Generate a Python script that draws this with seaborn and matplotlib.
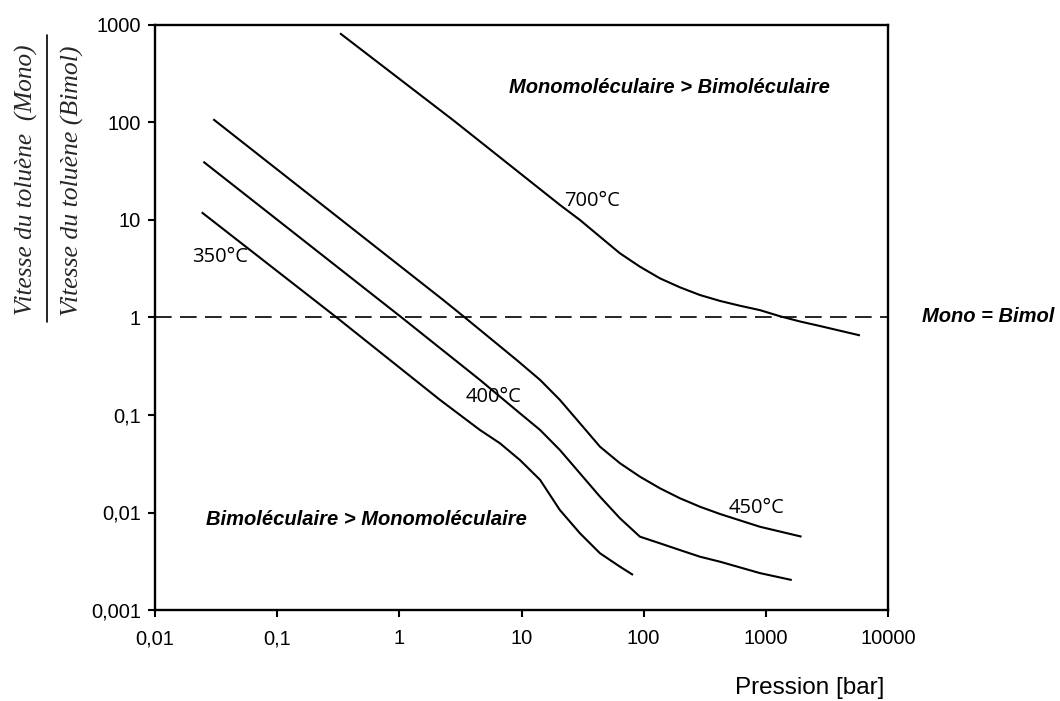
import matplotlib
matplotlib.use("Agg")
import matplotlib.pyplot as plt
import seaborn as sns
import pandas as pd
from matplotlib.lines import Line2D

# ---- data ----
p_700 = [0.327, 2.75, 20.6, 30.1, 43.9, 64, 93.2, 136, 198, 289, 421, 614, 895, 1306, 1905, 2775, 5900]
r_700 = [822, 106, 14.3, 10.0, 6.74, 4.55, 3.32, 2.52, 2.04, 1.70, 1.48, 1.32, 1.19, 1.03, 0.91, 0.818, 0.655]

p_450 = [0.030, 2.29, 3.44, 9.14, 14.2, 20.6, 30.1, 43.9, 64, 93.2, 136, 198, 289, 421, 895, 1960]
r_450 = [108, 1.51, 1.0, 0.366, 0.229, 0.143, 0.0822, 0.0473, 0.0320, 0.0233, 0.0177, 0.0140,
         0.01146, 0.00966, 0.00714, 0.00565]

p_400 = [0.0249, 1.045, 4.57, 9.72, 14.2, 20.6, 30.1, 43.9, 64, 93.2, 136, 198, 289, 421, 895, 1630]
r_400 = [39.6, 1.0, 0.229, 0.104, 0.0702, 0.0438, 0.0252, 0.01453, 0.00872, 0.00565,
         0.00483, 0.00412, 0.00352, 0.00313, 0.00239, 0.00203]

p_350 = [0.0241, 0.307, 2.15, 4.57, 6.66, 9.72, 14.2, 20.6, 30.1, 43.9, 64, 81.8]
r_350 = [12.0, 1.0, 0.143, 0.0702, 0.0513, 0.0345, 0.0216, 0.01061, 0.00612, 0.00382,
         0.00278, 0.00229]

x_ticks = [0.01, 0.1, 1, 10, 100, 1000, 10000]
x_ticklabels = ["0,01", "0,1", "1", "10", "100", "1000", "10000"]
y_ticks = [0.001, 0.01, 0.1, 1, 10, 100, 1000]
y_ticklabels = ["0,001", "0,01", "0,1", "1", "10", "100", "1000"]

curve_labels = ["350°C", "400°C", "450°C", "700°C"]
label_x = [0.034, 5.96, 847, 37.8]
label_y = [4.17, 0.153, 0.0111, 15.7]

frames = []
for name, p, r in [("700", p_700, r_700), ("450", p_450, r_450),
                   ("400", p_400, r_400), ("350", p_350, r_350)]:
    frames.append(pd.DataFrame({"P": p, "R": r, "T": name}))
df = pd.concat(frames, ignore_index=True)

sns.set_theme(style="white")
plt.rcParams["font.family"] = ["Liberation Sans", "DejaVu Sans"]

fig = plt.figure(figsize=(10.6, 7.01), dpi=100)
ax = fig.add_axes([155 / 1060, 1 - 610 / 701, (888 - 155) / 1060, (610 - 25) / 701])

for name in ["700", "450", "400", "350"]:
    sub = df[df["T"] == name]
    sns.lineplot(data=sub, x="P", y="R", sort=False, estimator=None,
                 color="black", linewidth=1.5, ax=ax,
                 solid_joinstyle="round", solid_capstyle="butt")

ax.axhline(1, color="black", linewidth=1.2, dashes=(10, 5))

ax.set_xscale("log")
ax.set_yscale("log")
ax.set_xlim(0.01, 10000)
ax.set_ylim(0.001, 1000)
ax.set_xticks(x_ticks)
ax.set_xticklabels(x_ticklabels)
ax.set_yticks(y_ticks)
ax.set_yticklabels(y_ticklabels)
ax.minorticks_off()
ax.tick_params(axis="both", direction="out", length=5, width=1.5, color="black",
               labelsize=14.5, labelcolor="black", left=True, bottom=True)
ax.tick_params(axis="x", pad=9)
ax.tick_params(axis="y", pad=5)
for s in ax.spines.values():
    s.set_visible(True)
    s.set_color("black")
    s.set_linewidth(1.7)
ax.set_xlabel("")
ax.set_ylabel("")
ax.grid(False)

for t, x, y in zip(curve_labels, label_x, label_y):
    ax.text(x, y, t, ha="center", va="center", fontsize=14.5,
            family=["Open Sans", "DejaVu Sans"], color="black")

ax.text(164, 226, "Monomoléculaire > Bimoléculaire", ha="center", va="center",
        fontsize=14.5, fontweight="bold", fontstyle="italic", color="black")
ax.text(0.543, 0.0084, "Bimoléculaire > Monomoléculaire", ha="center", va="center",
        fontsize=14.5, fontweight="bold", fontstyle="italic", color="black")

fig.text(922 / 1060, 1 - 317 / 701, "Mono = Bimol", ha="left", va="center",
         fontsize=14.5, fontweight="bold", fontstyle="italic", color="black")
fig.text(810 / 1060, 1 - 688 / 701, "Pression [bar]", ha="center", va="center",
         fontsize=17.5, color="black")

serif = ["Liberation Serif", "DejaVu Serif"]
fig.text(26 / 1060, 1 - 180 / 701, "Vitesse du toluène  (Mono)", rotation=90,
         ha="center", va="center", fontsize=18.2, fontstyle="italic", family=serif)
fig.text(72 / 1060, 1 - 181 / 701, "Vitesse du toluène (Bimol)", rotation=90,
         ha="center", va="center", fontsize=18.5, fontstyle="italic", family=serif)
fig.add_artist(Line2D([47 / 1060, 47 / 1060], [1 - 35 / 701, 1 - 322 / 701],
                      transform=fig.transFigure, color="black", linewidth=1.2))

fig.savefig("out.png", dpi=100)
